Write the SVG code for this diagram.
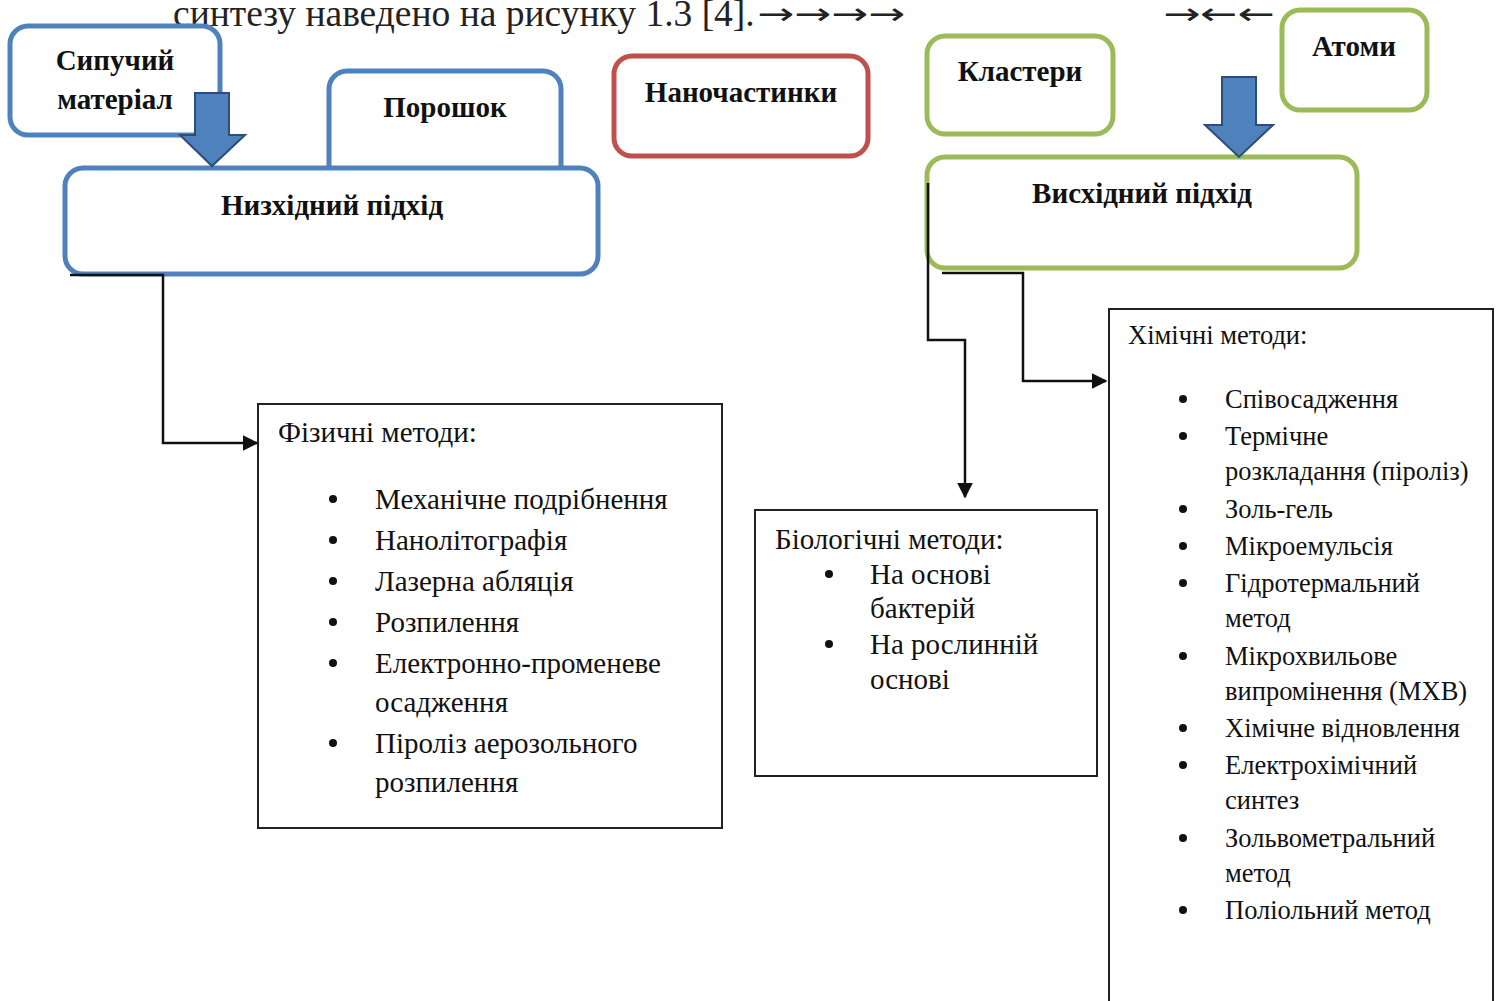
<svg xmlns="http://www.w3.org/2000/svg" width="1498" height="1001" viewBox="0 0 1498 1001">
<defs>
<style>
.bx{fill:#fff;stroke-width:5}
.blue{stroke:#4f81bd}
.green{stroke:#9bbb59}
.red{stroke:#c0504d}
.lbl{font-family:"Liberation Serif",serif;font-weight:bold;font-size:29px;fill:#111;text-anchor:middle}
.txt{font-family:"Liberation Serif",serif;font-size:29px;fill:#111}
.ch{font-family:"Liberation Serif",serif;font-size:26.5px;fill:#111}
.hd{font-family:"Liberation Serif",serif;font-size:29px;fill:#111}
.box{fill:#fff;stroke:#222;stroke-width:2}
.con{fill:none;stroke:#111;stroke-width:2.5}
.bar{fill:#4f81bd;stroke:#2c4d75;stroke-width:2}
.top{font-family:"Liberation Serif",serif;font-size:37.5px;fill:#222}
.arr{font-family:"DejaVu Sans",sans-serif;font-size:30px;fill:#222}
</style>
<marker id="ah2" viewBox="0 0 10 10" refX="9" refY="5" markerWidth="16" markerHeight="16" markerUnits="userSpaceOnUse" orient="auto"><path d="M0,0 L10,5 L0,10 z" fill="#111"/></marker>
</defs>
<rect width="1498" height="1001" fill="#fff"/>
<text class="top" x="173" y="26">синтезу наведено на рисунку 1.3 [4].</text>
<text class="arr" x="757" y="24" textLength="148" lengthAdjust="spacingAndGlyphs">→→→→</text>
<text class="arr" x="1163" y="24" textLength="112" lengthAdjust="spacingAndGlyphs">→←←</text>

<g id="porosh"><rect class="bx blue" x="329" y="71" width="232" height="120" rx="18"/><text class="lbl" x="445" y="117">Порошок</text></g>
<g id="nyzh"><rect class="bx blue" x="65" y="168" width="533" height="106" rx="18"/><text class="lbl" x="332" y="215">Низхідний підхід</text></g>
<g id="syp"><rect class="bx blue" x="10" y="26" width="210" height="109" rx="18"/><text class="lbl" x="115" y="70">Сипучий</text><text class="lbl" x="115" y="109">матеріал</text></g>
<g id="arrow1"><path class="bar" d="M195,93 H229 V135 H245 L212,166 L180,135 H195 Z"/></g>
<g id="nano"><rect class="bx red" x="614" y="56" width="254" height="100" rx="18"/><text class="lbl" x="741" y="102">Наночастинки</text></g>
<g id="klast"><rect class="bx green" x="927" y="36" width="186" height="98" rx="18"/><text class="lbl" x="1020" y="81">Кластери</text></g>
<g id="atomy"><rect class="bx green" x="1282" y="10" width="145" height="100" rx="18"/><text class="lbl" x="1354" y="56">Атоми</text></g>
<g id="vysh"><rect class="bx green" x="927" y="157" width="430" height="111" rx="18"/><text class="lbl" x="1142" y="203">Висхідний підхід</text></g>
<g id="arrow2"><path class="bar" d="M1222,77 H1256 V125 H1273 L1239,157 L1205,125 H1222 Z"/></g>

<g id="connectors">
<path class="con" d="M70,275 H163 V443 H257" marker-end="url(#ah2)"/>
<path class="con" d="M928,183 V340 H965 V497" marker-end="url(#ah2)"/>
<path class="con" d="M942,273 H1023 V381 H1106" marker-end="url(#ah2)"/>
</g>

<g id="fiz">
<rect class="box" x="258" y="404" width="464" height="424"/>
<text class="hd" x="278" y="442">Фізичні методи:</text>
<circle cx="333" cy="499" r="4" fill="#111"/><text class="txt" x="375" y="509">Механічне подрібнення</text>
<circle cx="333" cy="540" r="4" fill="#111"/><text class="txt" x="375" y="550">Нанолітографія</text>
<circle cx="333" cy="581" r="4" fill="#111"/><text class="txt" x="375" y="591">Лазерна абляція</text>
<circle cx="333" cy="622" r="4" fill="#111"/><text class="txt" x="375" y="632">Розпилення</text>
<circle cx="333" cy="663" r="4" fill="#111"/><text class="txt" x="375" y="673">Електронно-променеве</text>
<text class="txt" x="375" y="712">осадження</text>
<circle cx="333" cy="743" r="4" fill="#111"/><text class="txt" x="375" y="753">Піроліз аерозольного</text>
<text class="txt" x="375" y="792">розпилення</text>
</g>

<g id="bio">
<rect class="box" x="755" y="510" width="342" height="266"/>
<text class="hd" x="775" y="549">Біологічні методи:</text>
<circle cx="829" cy="574" r="4" fill="#111"/><text class="txt" x="870" y="584">На основі</text>
<text class="txt" x="870" y="618">бактерій</text>
<circle cx="829" cy="644" r="4" fill="#111"/><text class="txt" x="870" y="654">На рослинній</text>
<text class="txt" x="870" y="689">основі</text>
</g>

<g id="chem">
<rect class="box" x="1109" y="309" width="384" height="700"/>
<text class="ch" x="1128" y="344">Хімічні методи:</text>
<circle cx="1183" cy="399" r="4" fill="#111"/><text class="ch" x="1225" y="408">Співосадження</text>
<circle cx="1183" cy="436" r="4" fill="#111"/><text class="ch" x="1225" y="445">Термічне</text>
<text class="ch" x="1225" y="480">розкладання (піроліз)</text>
<circle cx="1183" cy="509" r="4" fill="#111"/><text class="ch" x="1225" y="518">Золь-гель</text>
<circle cx="1183" cy="546" r="4" fill="#111"/><text class="ch" x="1225" y="555">Мікроемульсія</text>
<circle cx="1183" cy="583" r="4" fill="#111"/><text class="ch" x="1225" y="592">Гідротермальний</text>
<text class="ch" x="1225" y="627">метод</text>
<circle cx="1183" cy="656" r="4" fill="#111"/><text class="ch" x="1225" y="665">Мікрохвильове</text>
<text class="ch" x="1225" y="700">випромінення (МХВ)</text>
<circle cx="1183" cy="728" r="4" fill="#111"/><text class="ch" x="1225" y="737">Хімічне відновлення</text>
<circle cx="1183" cy="765" r="4" fill="#111"/><text class="ch" x="1225" y="774">Електрохімічний</text>
<text class="ch" x="1225" y="809">синтез</text>
<circle cx="1183" cy="838" r="4" fill="#111"/><text class="ch" x="1225" y="847">Зольвометральний</text>
<text class="ch" x="1225" y="882">метод</text>
<circle cx="1183" cy="910" r="4" fill="#111"/><text class="ch" x="1225" y="919">Поліольний метод</text>
</g>
</svg>
